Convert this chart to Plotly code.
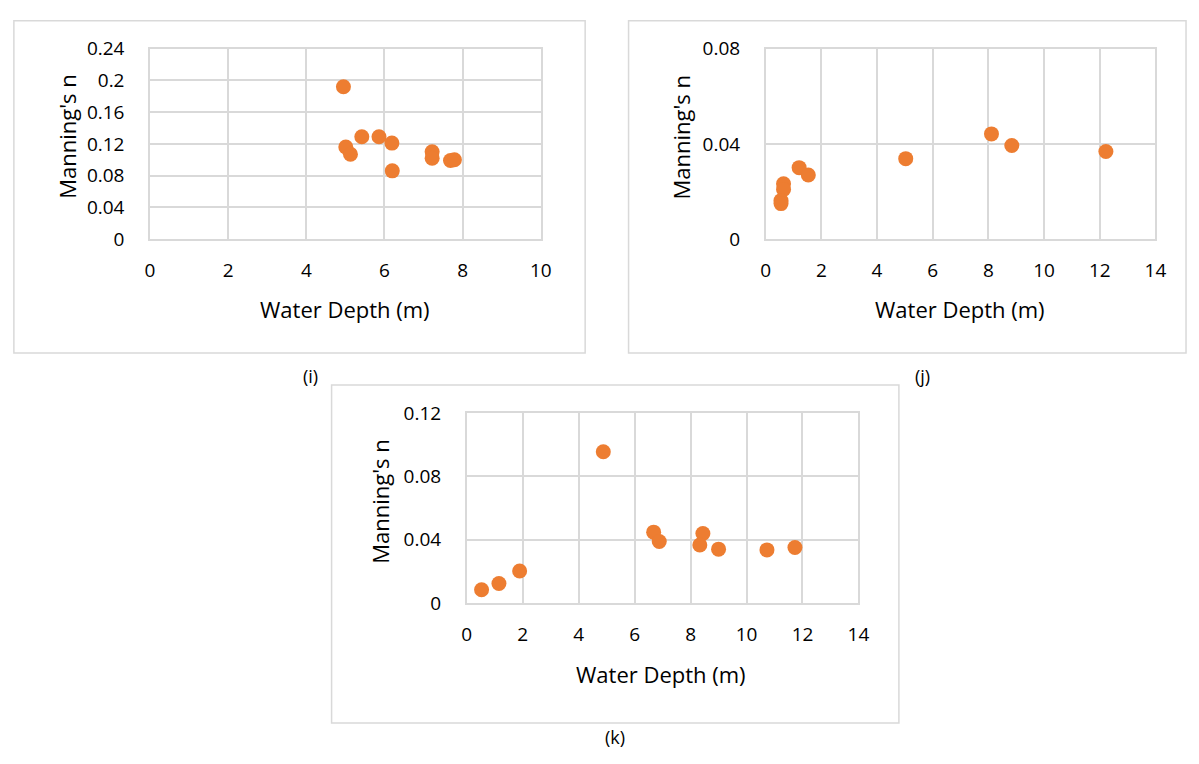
import plotly.graph_objects as go

W, H = 1199, 764

# Panel (i)
i_depth = [4.95, 5.01, 5.13, 5.42, 5.86, 6.19, 6.20, 7.22, 7.22, 7.69, 7.79]
i_n = [0.192, 0.116, 0.107, 0.129, 0.129, 0.121, 0.086, 0.110, 0.102, 0.099, 0.100]
# Panel (j)
j_depth = [8.11, 8.84, 12.22, 5.03, 1.20, 1.53, 0.64, 0.64, 0.55, 0.55]
j_n = [0.0442, 0.0393, 0.0368, 0.0338, 0.0300, 0.0269, 0.0232, 0.0208, 0.0162, 0.0149]
# Panel (k)
k_depth = [4.88, 6.68, 6.88, 8.44, 8.33, 9.00, 10.73, 11.73, 1.89, 1.15, 0.53]
k_n = [0.0955, 0.0448, 0.0389, 0.0440, 0.0367, 0.0341, 0.0336, 0.0351, 0.0203, 0.0124, 0.0085]

x_title = "Water Depth (m)"
y_title = "Manning's n"
labels = ["(i)", "(j)", "(k)"]

FONT = "'Open Sans', Lato, sans-serif"
ORANGE = "#ED7D31"
GRID = "#d9d9d9"

def fx(px):
    return px / W

def fy(py):
    return 1 - py / H

panels = [
    dict(x=i_depth, y=i_n, xd=(147, 543), yd=(37, 234), xr=(0, 10), xdt=2, yr=(0, 0.24), ydt=0.04,
         box=(9, 8, 588, 352), ytx=62, ytc=128, xtx=345, xty=306, lab=(310, 376)),
    dict(x=j_depth, y=j_n, xd=(771, 1166), yd=(37, 234), xr=(0, 14), xdt=2, yr=(0, 0.08), ydt=0.04,
         box=(632, 8, 1197, 352), ytx=685, ytc=128, xtx=968, xty=306, lab=(930, 376)),
    dict(x=k_depth, y=k_n, xd=(468, 865), yd=(414, 611), xr=(0, 14), xdt=2, yr=(0, 0.12), ydt=0.04,
         box=(331, 385, 906, 735), ytx=380, ytc=505, xtx=665, xty=684, lab=(618, 750)),
]

fig = go.Figure()
shapes = []
annotations = []
for idx, p in enumerate(panels, start=1):
    xa = "x" if idx == 1 else f"x{idx}"
    ya = "y" if idx == 1 else f"y{idx}"
    fig.add_trace(go.Scatter(x=p["x"], y=p["y"], mode="markers", xaxis=xa, yaxis=ya,
                             marker=dict(color=ORANGE, size=15), showlegend=False,
                             cliponaxis=False, hoverinfo="skip"))
    xkey = "xaxis" if idx == 1 else f"xaxis{idx}"
    ykey = "yaxis" if idx == 1 else f"yaxis{idx}"
    fig.update_layout(**{
        xkey: dict(domain=[fx(p["xd"][0]), fx(p["xd"][1])], range=list(p["xr"]), dtick=p["xdt"],
                   tick0=0, anchor=ya, showgrid=True, gridcolor=GRID, gridwidth=1.5,
                   zeroline=False, showline=True, linecolor=GRID, linewidth=1.5, mirror=True,
                   ticks="", ticklabelstandoff=13, fixedrange=True,
                   tickfont=dict(family=FONT, size=19, color="#000000")),
        ykey: dict(domain=[fy(p["yd"][1]), fy(p["yd"][0])], range=list(p["yr"]), dtick=p["ydt"],
                   tick0=0, anchor=xa, showgrid=True, gridcolor=GRID, gridwidth=1.5,
                   zeroline=False, showline=True, linecolor=GRID, linewidth=1.5, mirror=True,
                   ticks="", ticklabelstandoff=20, fixedrange=True,
                   tickfont=dict(family=FONT, size=19, color="#000000")),
    })
    b = p["box"]
    shapes.append(dict(type="rect", xref="paper", yref="paper",
                       x0=fx(b[0]), x1=fx(b[2]), y0=fy(b[3]), y1=fy(b[1]),
                       line=dict(color=GRID, width=1.5), layer="below"))
    annotations.append(dict(text=y_title, xref="paper", yref="paper", x=fx(p["ytx"]), y=fy(p["ytc"]),
                            textangle=-90, showarrow=False, xanchor="center", yanchor="middle",
                            font=dict(family=FONT, size=22, color="#000000")))
    annotations.append(dict(text=x_title, xref="paper", yref="paper", x=fx(p["xtx"]), y=fy(p["xty"]),
                            showarrow=False, xanchor="center", yanchor="middle",
                            font=dict(family=FONT, size=22, color="#000000")))
    annotations.append(dict(text=labels[idx - 1], xref="paper", yref="paper", x=fx(p["lab"][0]),
                            y=fy(p["lab"][1]), showarrow=False, xanchor="center", yanchor="middle",
                            font=dict(family=FONT, size=18, color="#000000")))

fig.update_layout(margin=dict(l=0, r=0, t=0, b=0), autosize=True,
                  paper_bgcolor="white", plot_bgcolor="white",
                  shapes=shapes, annotations=annotations)

fig.write_html("out.html",
               config={"displayModeBar": False, "responsive": True},
               default_width="100vw", default_height="100vh",
               post_script=("document.documentElement.style.margin='0';"
                            "document.documentElement.style.overflow='hidden';"
                            "document.body.style.margin='0';document.body.style.padding='0';"
                            "document.body.style.overflow='hidden';"
                            "Plotly.Plots.resize(document.getElementById('{plot_id}'));"))
